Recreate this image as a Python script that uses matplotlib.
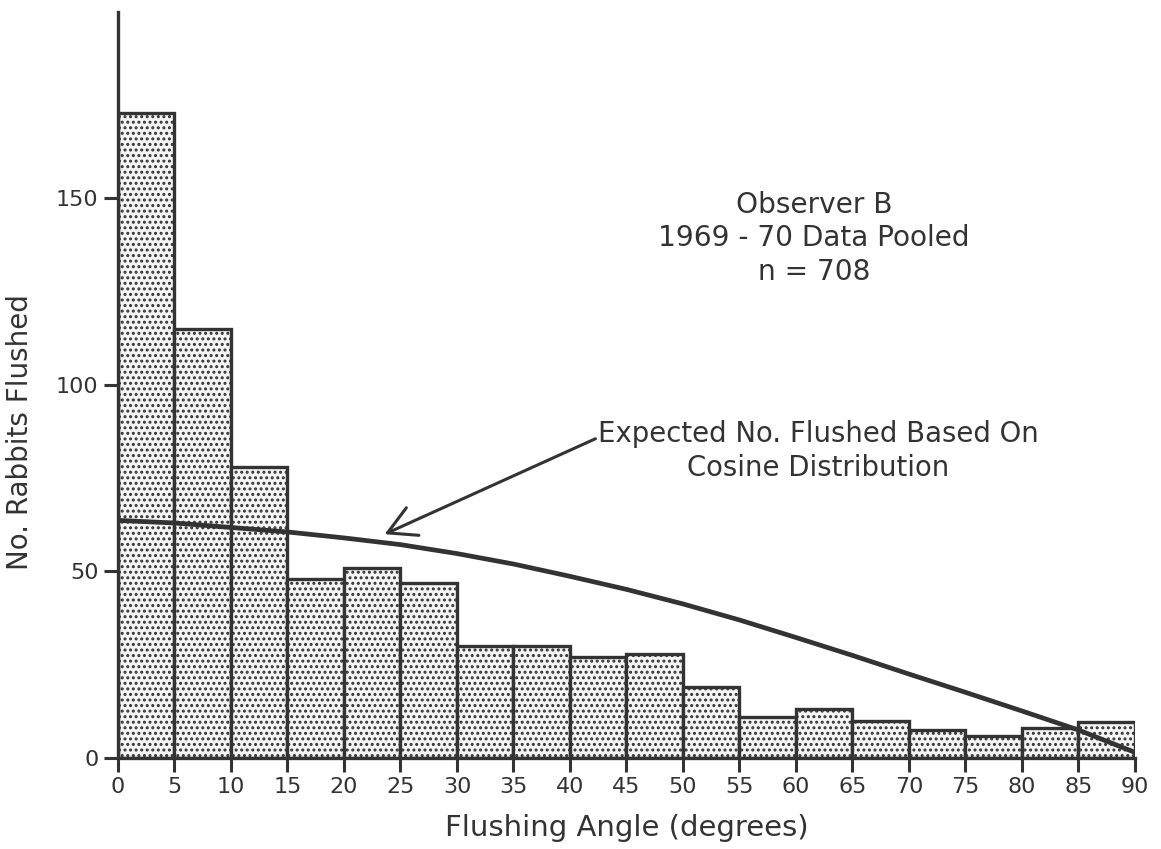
import matplotlib
matplotlib.use("Agg")
import matplotlib.pyplot as plt

plt.rcParams["font.family"] = ["DejaVu Sans"]
plt.rcParams["hatch.linewidth"] = 1.4

# counts per 5-degree flushing-angle class (observer B, 1969-70 pooled)
bin_left = [0, 5, 10, 15, 20, 25, 30, 35, 40, 45, 50, 55, 60, 65, 70, 75, 80, 85]
counts = [173, 115, 78, 48, 51, 47, 30, 30, 27, 28, 19, 11, 13, 10, 7.5, 6, 8, 9.7]

# expected counts
curve_angle = [0, 5, 10, 15, 20, 25, 30, 35, 40, 45, 50, 55, 60, 65, 70, 75, 80, 85, 90]
curve_count = [63.7, 63, 61.8, 60.6, 59, 57.2, 54.8, 52, 48.7, 45.2, 41.3, 37, 32.3,
               27.5, 22.5, 17.6, 12.6, 7.5, 1.5]

x_ticks = list(range(0, 95, 5))
y_ticks = [0, 50, 100, 150]

ink = "#333333"

fig = plt.figure(figsize=(11.61, 8.49), dpi=100)
ax = fig.add_axes([0.1016, 0.1072, 0.876, 0.8787])

ax.bar(bin_left, counts, width=5, align="edge", facecolor="#f4f4f4",
       edgecolor=ink, linewidth=2.4, hatch="...", zorder=2)
ax.plot(curve_angle, curve_count, color=ink, linewidth=3.4, zorder=3,
        solid_capstyle="round", solid_joinstyle="round")

ax.set_xlim(0, 90)
ax.set_ylim(0, 200)
ax.set_xticks(x_ticks)
ax.set_yticks(y_ticks)
ax.tick_params(axis="both", direction="out", length=10, width=2.2, color=ink,
               labelsize=16, labelcolor=ink, pad=4)
for side in ["top", "right"]:
    ax.spines[side].set_visible(False)
for side in ["left", "bottom"]:
    ax.spines[side].set_linewidth(2.4)
    ax.spines[side].set_color(ink)
ax.spines["left"].set_zorder(4)

ax.set_xlabel("Flushing Angle (degrees)", fontsize=21, color=ink, labelpad=12)
ax.set_ylabel("No. Rabbits Flushed", fontsize=20, color=ink)
ax.yaxis.set_label_coords(-0.083, 0.437)

ax.text(61.6, 139.3, "Observer B\n1969 - 70 Data Pooled\nn = 708", ha="center",
        va="center", fontsize=20.2, color=ink, linespacing=1.25)

ax.annotate("Expected No. Flushed Based On\nCosine Distribution",
            xy=(23.6, 60), xytext=(42.5, 82.3), ha="left", va="center",
            fontsize=19.8, color=ink, multialignment="center", linespacing=1.25,
            arrowprops=dict(arrowstyle="->,head_length=1.0,head_width=0.55",
                            color=ink, linewidth=2.2, shrinkA=0, shrinkB=0,
                            relpos=(0, 0.72)))

fig.savefig("out.png", dpi=100, facecolor="white")
